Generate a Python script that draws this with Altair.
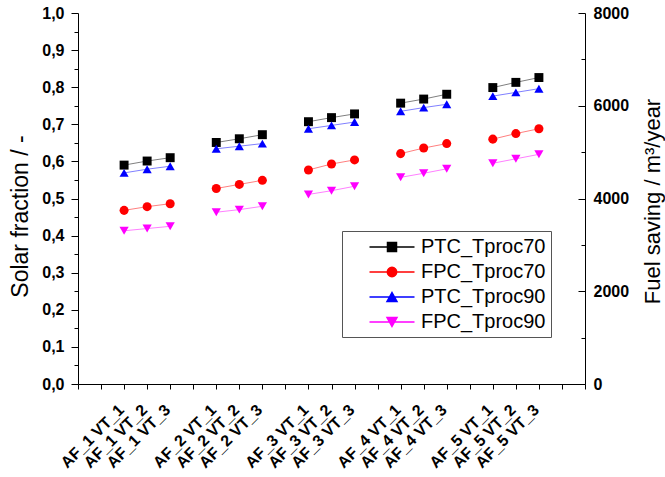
import altair as alt
import pandas as pd

FONT = "Liberation Sans"

# ---------------- data ----------------
configs = ["AF_1 VT_1", "AF_1 VT_2", "AF_1 VT_3",
           "AF_2 VT_1", "AF_2 VT_2", "AF_2 VT_3",
           "AF_3 VT_1", "AF_3 VT_2", "AF_3 VT_3",
           "AF_4 VT_1", "AF_4 VT_2", "AF_4 VT_3",
           "AF_5 VT_1", "AF_5 VT_2", "AF_5 VT_3"]
groups = ["AF_1"] * 3 + ["AF_2"] * 3 + ["AF_3"] * 3 + ["AF_4"] * 3 + ["AF_5"] * 3

# category axis slots (empty slots between the groups)
slots = ["gap0", "gap1",
         "AF_1 VT_1", "AF_1 VT_2", "AF_1 VT_3", "gap2",
         "AF_2 VT_1", "AF_2 VT_2", "AF_2 VT_3", "gap3",
         "AF_3 VT_1", "AF_3 VT_2", "AF_3 VT_3", "gap4",
         "AF_4 VT_1", "AF_4 VT_2", "AF_4 VT_3", "gap5",
         "AF_5 VT_1", "AF_5 VT_2", "AF_5 VT_3", "gap6", "gap7"]

series_names = ["PTC_Tproc70", "FPC_Tproc70", "PTC_Tproc90", "FPC_Tproc90"]
series_colors = ["#000000", "#ff0000", "#0000ff", "#ff00ff"]
series_shapes = ["square", "circle", "triangle-up", "triangle-down"]
series_sizes = [80, 85, 115, 115]

ptc_70 = [0.590, 0.601, 0.610, 0.651, 0.661, 0.672, 0.707, 0.718, 0.728,
          0.757, 0.768, 0.781, 0.799, 0.813, 0.826]
fpc_70 = [0.468, 0.478, 0.486, 0.527, 0.538, 0.549, 0.577, 0.593, 0.604,
          0.621, 0.636, 0.648, 0.660, 0.675, 0.688]
ptc_90 = [0.569, 0.579, 0.587, 0.634, 0.641, 0.648, 0.688, 0.697, 0.706,
          0.735, 0.745, 0.754, 0.776, 0.786, 0.796]
fpc_90 = [0.413, 0.419, 0.425, 0.463, 0.470, 0.479, 0.511, 0.521, 0.533,
          0.557, 0.568, 0.580, 0.595, 0.607, 0.619]

left_major = [0.0, 0.1, 0.2, 0.3, 0.4, 0.5, 0.6, 0.7, 0.8, 0.9, 1.0]
left_minor = [0.05, 0.15, 0.25, 0.35, 0.45, 0.55, 0.65, 0.75, 0.85, 0.95]
right_major = [0, 2000, 4000, 6000, 8000]
right_minor = [1000, 3000, 5000, 7000]

# legend symbols: short line + marker (custom SVG paths)
legend_line = "M-2.25,0H2.25"
legend_markers = [
    "M-0.45,-0.45H0.45V0.45H-0.45Z",
    "M-0.47,0A0.47,0.47,0,1,1,0.47,0A0.47,0.47,0,1,1,-0.47,0Z",
    "M0,-0.45L0.5,0.45H-0.5Z",
    "M0,0.45L0.5,-0.45H-0.5Z",
]
legend_paths = [legend_line + m for m in legend_markers]

rows = []
for name, vals in zip(series_names, [ptc_70, fpc_70, ptc_90, fpc_90]):
    for c, g, v in zip(configs, groups, vals):
        rows.append({"config": c, "grp": g, "series": name, "sf": v})
df = pd.DataFrame(rows)

W, H = 507, 371

# ---------------- encodings ----------------
x_enc = alt.X(
    "config:N",
    sort=slots,
    scale=alt.Scale(type="point", domain=slots, padding=0),
    axis=alt.Axis(
        title=None, grid=False,
        labelExpr="indexof(datum.value, 'gap') == 0 ? '' : datum.value",
        labelAngle=315, labelAlign="right", labelBaseline="middle",
        labelFont=FONT, labelFontWeight="bold", labelFontSize=16,
        labelColor="black", labelPadding=18, labelOffset=-3, labelOverlap=False,
        tickSize=5, tickColor="black", tickWidth=1,
        domainColor="black", domainWidth=1,
    ),
)

y_scale = alt.Scale(domain=[0, 1], nice=False, zero=False)
color_scale = alt.Scale(domain=series_names, range=series_colors)

y_main = alt.Y(
    "sf:Q", scale=y_scale,
    axis=alt.Axis(
        orient="left", values=left_major, grid=False,
        labelExpr="replace(format(datum.value, '.1f'), '.', ',')",
        labelFont=FONT, labelFontWeight="bold", labelFontSize=16,
        labelColor="black", labelPadding=7,
        tickSize=7, tickColor="black", domainColor="black",
        title="Solar fraction / -", titleFont=FONT, titleFontSize=23,
        titleFontWeight="normal", titleColor="black", titleAngle=270,
        titleBaseline="alphabetic", titleAlign="center",
        titleX=-51, titleY=203,
    ),
)

lines = alt.Chart(df).mark_line(strokeWidth=1, opacity=0.5).encode(
    x=x_enc,
    y=y_main,
    color=alt.Color("series:N", scale=color_scale, legend=None),
    detail="grp:N",
)

points = alt.Chart(df).mark_point(filled=True, opacity=1).encode(
    x=x_enc,
    y=alt.Y("sf:Q", scale=y_scale, axis=None),
    color=alt.Color("series:N", scale=color_scale, legend=None),
    shape=alt.Shape("series:N", scale=alt.Scale(domain=series_names, range=series_shapes), legend=None),
    size=alt.Size("series:N", scale=alt.Scale(domain=series_names, range=series_sizes), legend=None),
)

minor_left = alt.Chart(pd.DataFrame({"v": left_minor})).mark_point(opacity=0).encode(
    y=alt.Y("v:Q", scale=y_scale,
            axis=alt.Axis(orient="left", values=left_minor, labels=False, domain=False,
                          grid=False, tickSize=4, tickColor="black", title=None)),
)

right_scale = alt.Scale(domain=[0, 8000], nice=False, zero=False)

right_major_layer = alt.Chart(pd.DataFrame({"fs": right_major})).mark_point(opacity=0).encode(
    y=alt.Y("fs:Q", scale=right_scale,
            axis=alt.Axis(orient="left", offset=-W, values=right_major, grid=False,
                          format="d", labelAlign="left", labelBaseline="middle",
                          labelFont=FONT, labelFontWeight="bold", labelFontSize=16,
                          labelColor="black", labelPadding=-15,
                          tickSize=7, tickColor="black", domainColor="black",
                          title="Fuel saving / m³/year", titleFont=FONT, titleFontSize=22,
                          titleFontWeight="normal", titleColor="black", titleAngle=270,
                          titleBaseline="alphabetic", titleAlign="center",
                          titleX=74, titleY=188)),
)

right_minor_layer = alt.Chart(pd.DataFrame({"fs": right_minor})).mark_point(opacity=0).encode(
    y=alt.Y("fs:Q", scale=right_scale,
            axis=alt.Axis(orient="left", offset=-W, values=right_minor, labels=False,
                          domain=False, grid=False, tickSize=4, tickColor="black", title=None)),
)

legend_def = alt.Legend(
    title=None, orient="none", legendX=264, legendY=218,
    padding=5, symbolSize=400, symbolOffset=34, labelOffset=18, rowPadding=4,
    labelFont=FONT, labelFontSize=20, labelColor="black",
    labelExpr="datum.label + ' '",
    strokeColor="#555555", fillColor="white",
)

legend_layer = alt.Chart(df).transform_filter("false").mark_point(
    filled=True, size=400, strokeWidth=1.5, strokeOpacity=0.45, fillOpacity=1, opacity=1
).encode(
    fill=alt.Fill("series:N", scale=alt.Scale(domain=series_names, range=series_colors), legend=legend_def),
    stroke=alt.Stroke("series:N", scale=alt.Scale(domain=series_names, range=series_colors), legend=legend_def),
    shape=alt.Shape("series:N", scale=alt.Scale(domain=series_names, range=legend_paths), legend=legend_def),
)

chart = alt.layer(
    lines, points, minor_left, right_major_layer, right_minor_layer, legend_layer
).resolve_scale(
    y="independent", shape="independent", size="independent",
    fill="independent", stroke="independent",
).properties(
    width=W, height=H,
    autosize=alt.AutoSizeParams(type="none"),
    padding={"left": 78, "top": 13, "right": 80, "bottom": 93},
    background="white",
).configure_view(stroke=None)

chart.save("out.html", embed_options={"renderer": "svg", "actions": False})
